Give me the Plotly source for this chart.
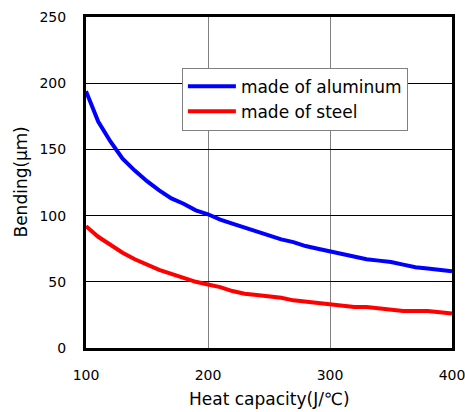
import plotly.graph_objects as go

heat_capacity = [100, 110, 120, 130, 140, 150, 160, 170, 180, 190, 200, 210, 220, 230, 240, 250,
                 260, 270, 280, 290, 300, 310, 320, 330, 340, 350, 360, 370, 380, 390, 400]
aluminum = [194, 171, 156, 143, 134, 126, 119, 113, 109, 104, 101, 97, 94, 91, 88, 85,
            82, 80, 77, 75, 73, 71, 69, 67, 66, 65, 63, 61, 60, 59, 58]
steel = [92, 84, 78, 72, 67, 63, 59, 56, 53, 50, 48, 46, 43, 41, 40, 39,
         38, 36, 35, 34, 33, 32, 31, 31, 30, 29, 28, 28, 28, 27, 26]

x_ticks = [100, 200, 300, 400]
y_ticks = [0, 50, 100, 150, 200, 250]
x_title = "Heat capacity(J/℃)"
y_title = "Bending(μｍ)"

font = "DejaVu Sans, Noto Sans CJK JP, sans-serif"

fig = go.Figure()
fig.add_trace(go.Scatter(x=heat_capacity, y=aluminum, mode="lines", name="made of aluminum",
                         line=dict(color="#0000ff", width=4)))
fig.add_trace(go.Scatter(x=heat_capacity, y=steel, mode="lines", name="made of steel",
                         line=dict(color="#ff0000", width=4)))

fig.update_layout(
    width=465, height=412,
    margin=dict(l=86, r=13, t=17, b=64),
    paper_bgcolor="white", plot_bgcolor="white",
    font=dict(family=font, size=14, color="black"),
    showlegend=True,
    legend=dict(x=0.262, y=0.847, xanchor="left", yanchor="top",
                bgcolor="white", bordercolor="#808080", borderwidth=1,
                font=dict(size=17), itemwidth=48, tracegroupgap=0),
    xaxis=dict(range=[100, 400], tickvals=x_ticks, ticks="", ticklabelstandoff=12,
               ticklabeloverflow="allow",
               showgrid=True, gridcolor="#808080", gridwidth=1,
               showline=True, linecolor="black", linewidth=3, mirror=True,
               zeroline=False, automargin=False),
    yaxis=dict(range=[0, 250], tickvals=y_ticks, ticks="", ticklabelstandoff=14,
               ticklabeloverflow="allow",
               showgrid=True, gridcolor="black", gridwidth=1,
               showline=True, linecolor="black", linewidth=3, mirror=True,
               zeroline=False, automargin=False),
    annotations=[
        dict(text=x_title, xref="paper", yref="paper", x=0.5, y=0, yshift=-51,
             xanchor="center", yanchor="middle", showarrow=False, font=dict(size=17)),
        dict(text=y_title, xref="paper", yref="paper", x=0, y=0.5, xshift=-66,
             xanchor="center", yanchor="middle", showarrow=False, textangle=-90,
             font=dict(size=17)),
    ],
)

fig.write_html("out.html")
